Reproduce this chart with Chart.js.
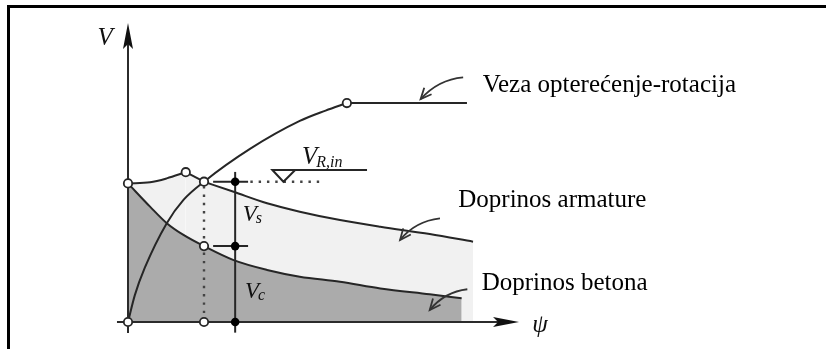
<!DOCTYPE html>
<html>
<head>
<meta charset="utf-8">
<script src="https://cdn.jsdelivr.net/npm/chart.js@4.4.0/dist/chart.umd.min.js"></script>
<style>
  html, body { margin: 0; padding: 0; background: #fff; overflow: hidden; }
  canvas { display: block; }
</style>
</head>
<body>
<canvas id="myChart" width="826" height="349"></canvas>
<script>
// rotation psi on x, shear force V on y (schematic units)

// total resistance, concrete + reinforcement (peak at index 3, kink at index 4)
const psiTop = [0, 0.29, 0.51, 0.76, 1.0, 1.39, 1.83, 2.26, 2.79, 3.32, 3.97, 4.54];
const vTop   = [4.95, 4.99, 5.13, 5.35, 5.01, 4.65, 4.24, 3.94, 3.64, 3.40, 3.14, 2.87];

// concrete contribution
const psiConc = [0, 0.29, 0.51, 0.73, 1.0, 1.39, 1.83, 2.26, 2.79, 3.32, 3.97, 4.39];
const vConc   = [4.95, 4.12, 3.53, 3.11, 2.71, 2.21, 1.86, 1.62, 1.44, 1.20, 0.99, 0.85];

// load-rotation curve, plateau after index 9
const psiLoad = [0, 0.09, 0.22, 0.51, 0.73, 1.0, 1.61, 2.26, 2.6, 2.88, 4.46];
const vLoad   = [0, 0.96, 1.93, 3.53, 4.36, 5.01, 6.19, 7.18, 7.55, 7.82, 7.82];

// open circles and filled dots
const psiNodes = [0, 0, 0.76, 1.0, 1.0, 1.0, 2.88];
const vNodes   = [0, 4.95, 5.35, 5.01, 2.71, 0, 7.82];
const psiDots = [1.41, 1.41, 1.41];
const vDots   = [5.01, 2.71, 0];

const labels = {
  load: 'Veza opterećenje-rotacija',
  steel: 'Doprinos armature',
  conc: 'Doprinos betona'
};

const INK = '#262626';

function pts(xs, ys, from, to) {
  let out = [];
  for (let i = from; i <= to; i++) out.push({x: xs[i], y: ys[i]});
  return out;
}

function curve(data, extra) {
  return Object.assign({
    data: data,
    borderColor: INK,
    borderWidth: 2,
    pointRadius: 0,
    cubicInterpolationMode: 'monotone',
    fill: false,
    clip: false
  }, extra);
}

const n = psiTop.length - 1;
const datasets = [
  { data: pts(psiNodes, vNodes, 0, psiNodes.length - 1), showLine: false, pointRadius: 4.2,
    pointBackgroundColor: '#fff', pointBorderColor: INK, pointBorderWidth: 1.8, clip: false },
  { data: pts(psiDots, vDots, 0, psiDots.length - 1), showLine: false, pointRadius: 4.3,
    pointBackgroundColor: '#000', pointBorderColor: '#000', pointBorderWidth: 0, clip: false },
  curve(pts(psiLoad, vLoad, 0, 9)),
  curve(pts(psiLoad, vLoad, 9, 10)),
  curve(pts(psiConc, vConc, 0, psiConc.length - 1), {fill: 'origin', backgroundColor: '#ababab'}),
  curve(pts(psiTop, vTop, 0, 3), {fill: 'origin', backgroundColor: '#f1f1f1'}),
  curve(pts(psiTop, vTop, 3, 4), {fill: 'origin', backgroundColor: '#f1f1f1', cubicInterpolationMode: 'default', tension: 0}),
  curve(pts(psiTop, vTop, 4, n), {fill: 'origin', backgroundColor: '#f1f1f1'})
];

function dart(ctx, tx, ty, ang) {
  ctx.save();
  ctx.translate(tx, ty);
  ctx.rotate(ang);
  ctx.beginPath();
  ctx.moveTo(0, 0);
  ctx.lineTo(-26, -5);
  ctx.lineTo(-21, 0);
  ctx.lineTo(-26, 5);
  ctx.closePath();
  ctx.fillStyle = '#111';
  ctx.fill();
  ctx.restore();
}

function seg(ctx, x1, y1, x2, y2) {
  ctx.beginPath();
  ctx.moveTo(x1, y1);
  ctx.lineTo(x2, y2);
  ctx.stroke();
}

// curved callout with a barbed head at (tx, ty)
function callout(ctx, sx, sy, cx, cy, tx, ty) {
  ctx.beginPath();
  ctx.moveTo(sx, sy);
  ctx.quadraticCurveTo(cx, cy, tx, ty);
  ctx.stroke();
  const a = Math.atan2(ty - cy, tx - cx);
  ctx.beginPath();
  ctx.moveTo(tx - 12 * Math.cos(a - 0.42), ty - 12 * Math.sin(a - 0.42));
  ctx.lineTo(tx, ty);
  ctx.lineTo(tx - 12 * Math.cos(a + 0.42), ty - 12 * Math.sin(a + 0.42));
  ctx.stroke();
}

// symbol with an italic subscript right after it
function sym(ctx, main, sub, x, y, size, subSize, drop) {
  ctx.font = 'italic ' + size + 'px "Liberation Serif"';
  ctx.fillText(main, x, y);
  const w = ctx.measureText(main).width;
  ctx.font = 'italic ' + subSize + 'px "Liberation Serif"';
  ctx.fillText(sub, x + w - 1, y + drop);
}

const sketch = {
  id: 'sketch',
  afterDatasetDraw(chart, args) {
    if (args.index !== 4) return; // axes and guides sit on the fills, under the load curve and circles
    const ctx = chart.ctx;
    const X = v => chart.scales.x.getPixelForValue(v);
    const Y = v => chart.scales.y.getPixelForValue(v);
    ctx.save();
    ctx.strokeStyle = '#2b2b2b';
    ctx.lineWidth = 2;
    // axes
    seg(ctx, X(0), Y(-0.39), X(0), Y(10.2));
    dart(ctx, X(0), Y(10.68), -Math.PI / 2);
    seg(ctx, X(-0.145), Y(0), X(4.9), Y(0));
    dart(ctx, X(5.145), Y(0), 0);
    // measuring line with ticks
    ctx.strokeStyle = INK;
    seg(ctx, X(psiDots[0]), Y(-0.38), X(psiDots[0]), Y(5.36));
    seg(ctx, X(1.12), Y(vDots[0]), X(1.58), Y(vDots[0]));
    seg(ctx, X(1.12), Y(vDots[1]), X(1.58), Y(vDots[1]));
    // dotted guides
    ctx.strokeStyle = '#444';
    ctx.lineWidth = 2.4;
    ctx.setLineDash([2.4, 5.9]);
    seg(ctx, X(1.0), Y(4.85), X(1.0), Y(0.1));
    seg(ctx, X(1.61), Y(vTop[4]), X(2.56), Y(vTop[4]));
    ctx.restore();
  },
  afterDatasetsDraw(chart) {
    const ctx = chart.ctx;
    const X = v => chart.scales.x.getPixelForValue(v);
    const Y = v => chart.scales.y.getPixelForValue(v);
    ctx.save();
    ctx.strokeStyle = INK;
    ctx.lineWidth = 2;
    // V_R,in level with triangle marker
    seg(ctx, X(1.895), Y(5.43), X(3.145), Y(5.43));
    ctx.beginPath();
    ctx.moveTo(X(1.9), Y(5.43));
    ctx.lineTo(X(2.045), Y(vTop[4]));
    ctx.lineTo(X(2.2), Y(5.43));
    ctx.closePath();
    ctx.fillStyle = '#fff';
    ctx.fill();
    ctx.stroke();

    // callouts
    ctx.strokeStyle = '#333';
    ctx.lineWidth = 1.8;
    callout(ctx, X(4.41), Y(8.74), X(4.08), Y(8.66), X(3.85), Y(7.96));
    callout(ctx, X(4.105), Y(3.70), X(3.78), Y(3.60), X(3.58), Y(2.93));
    callout(ctx, X(4.465), Y(1.17), X(4.17), Y(1.08), X(3.97), Y(0.43));

    // math labels
    ctx.fillStyle = '#111';
    ctx.textBaseline = 'alphabetic';
    ctx.font = 'italic 25px "Liberation Serif"';
    ctx.fillText('V', X(-0.4), Y(9.89));
    ctx.fillText('\u03C8', X(5.32), Y(-0.36));
    sym(ctx, 'V', 'R,in', X(2.29), Y(5.64), 25, 16, 3);
    sym(ctx, 'V', 's', X(1.51), Y(3.61), 23, 16, 2);
    sym(ctx, 'V', 'c', X(1.54), Y(0.86), 23, 16, 2);

    // callout texts
    ctx.fillStyle = '#000';
    ctx.font = '25px "Liberation Serif"';
    ctx.fillText(labels.load, X(4.667), Y(8.23));
    ctx.fillText(labels.steel, X(4.346), Y(4.11));
    ctx.fillText(labels.conc, X(4.654), Y(1.16));

    // frame
    ctx.fillStyle = '#000';
    ctx.fillRect(7, 5, 826, 3);
    ctx.fillRect(7, 5, 3, 349);
    ctx.restore();
  }
};

new Chart(document.getElementById('myChart'), {
  type: 'line',
  data: { datasets: datasets },
  options: {
    responsive: false,
    devicePixelRatio: 1,
    animation: false,
    layout: { padding: { left: 128, right: 318, top: 42, bottom: 27 } },
    scales: {
      x: { type: 'linear', min: 0, max: 5, display: false },
      y: { type: 'linear', min: 0, max: 10, display: false }
    },
    plugins: { legend: { display: false }, tooltip: { enabled: false } }
  },
  plugins: [sketch]
});
</script>
</body>
</html>
